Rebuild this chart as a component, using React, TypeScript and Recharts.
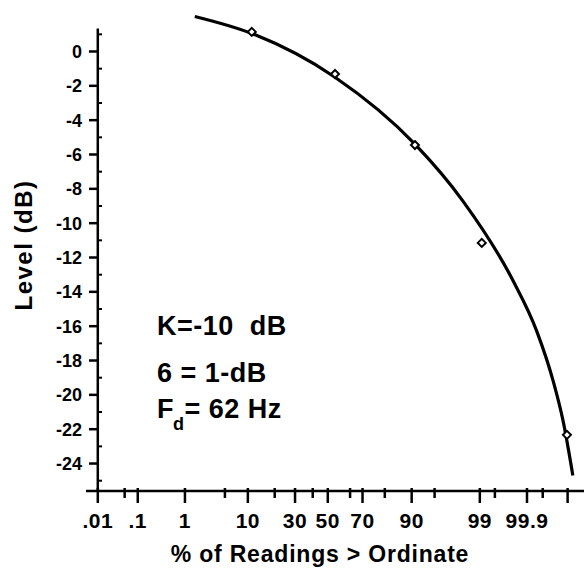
import React from "react";
import { ComposedChart, Line, Scatter, XAxis, YAxis, ReferenceLine } from "recharts";

// x axis is a probability (probit) scale; positions are in probit units, labels are percent
const probPos = [-3.51, -3.1, -2.9, -2.18, -1.57, -1.22, -0.81, -0.5, -0.23, 0, 0.34, 0.53, 0.87, 1.28, 1.63, 2.32, 2.55, 3.04, 3.28, 3.66];
const probLabels = [".01", "", ".1", "1", "", "10", "", "30", "", "50", "", "70", "", "90", "", "99", "", "99.9", "", ""];
const probMajor = [true, false, true, true, false, true, false, true, false, true, false, true, false, true, false, true, false, true, false, true];

// level ticks in dB, labels only on the even ones
const levelTicks = [1, 0, -1, -2, -3, -4, -5, -6, -7, -8, -9, -10, -11, -12, -13, -14, -15, -16, -17, -18, -19, -20, -21, -22, -23, -24, -25];

// fitted curve
const curveX = [-2.03, -1.16, 0.11, 1.33, 2.06, 2.82, 3.19, 3.44, 3.59, 3.74];
const curveLevel = [2.04, 1.05, -1.5, -5.4, -8.7, -13.3, -16.3, -19.2, -21.5, -24.7];

// measured readings (diamonds)
const readingX = [-1.16, 0.11, 1.33, 2.35, 3.65];
const readingLevel = [1.14, -1.31, -5.45, -11.15, -22.33];

const curveData = curveX.map((x, i) => ({ x, level: curveLevel[i] }));
const readingData = readingX.map((x, i) => ({ x, level: readingLevel[i] }));

const FONT = '"Liberation Sans", Arial, sans-serif';

function ProbTick(props: any) {
    const { x, y, payload } = props;
    const i = probPos.indexOf(payload.value);
    const major = probMajor[i];
    return (
        <g>
            <line x1={x} x2={x} y1={y - 3} y2={y + (major ? 12 : 7)} stroke="#000" strokeWidth={2.5} />
            {probLabels[i] ? (
                <text x={x} y={y + 37} textAnchor="middle" fontSize={21} fontWeight="bold" fontFamily={FONT} letterSpacing={0.5} fill="#000">
                    {probLabels[i]}
                </text>
            ) : null}
        </g>
    );
}

function LevelTick(props: any) {
    const { x, y, payload } = props;
    const v = payload.value;
    const major = v % 2 === 0;
    const axisX = x + 12; // the drawn y axis sits a bit right of the plot edge
    return (
        <g>
            {major ? (
                <line x1={axisX - 9} x2={axisX} y1={y} y2={y} stroke="#000" strokeWidth={2.5} />
            ) : (
                <line x1={axisX} x2={axisX + 4} y1={y} y2={y} stroke="#000" strokeWidth={2} />
            )}
            {major ? (
                <text x={x - 4} y={y} dy="0.36em" textAnchor="end" fontSize={18} fontWeight="bold" fontFamily={FONT} fill="#000">
                    {v}
                </text>
            ) : null}
        </g>
    );
}

const Diamond = (p: any) => (
    <path
        d={`M${p.cx},${p.cy - 4} L${p.cx + 4},${p.cy} L${p.cx},${p.cy + 4} L${p.cx - 4},${p.cy} Z`}
        fill="#fff"
        stroke="#000"
        strokeWidth={2}
    />
);

export default function App() {
    return (
        <div style={{ position: "absolute", left: 0, top: 0, width: 584, height: 572, background: "#fff" }}>
            <ComposedChart width={584} height={572} margin={{ top: 12, right: 0, bottom: 0, left: 0 }}>
                <XAxis
                    type="number"
                    dataKey="x"
                    domain={[-3.69, 3.91]}
                    allowDataOverflow
                    ticks={probPos}
                    interval={0}
                    tick={<ProbTick />}
                    tickLine={false}
                    tickSize={0}
                    tickMargin={0}
                    height={81}
                    axisLine={{ stroke: "#000", strokeWidth: 2.5 }}
                />
                <YAxis
                    type="number"
                    dataKey="level"
                    domain={[-25.6, 2.3]}
                    allowDataOverflow
                    ticks={levelTicks}
                    interval={0}
                    tick={<LevelTick />}
                    tickLine={false}
                    tickSize={0}
                    tickMargin={0}
                    width={86}
                    axisLine={false}
                />
                <ReferenceLine
                    segment={[{ x: probPos[0], y: -25.6 }, { x: probPos[0], y: 1.34 }]}
                    stroke="#000"
                    strokeWidth={2.5}
                    ifOverflow="visible"
                />
                <Line
                    data={curveData}
                    dataKey="level"
                    type="monotone"
                    stroke="#000"
                    strokeWidth={3.2}
                    dot={false}
                    isAnimationActive={false}
                />
                <Scatter data={readingData} dataKey="level" shape={<Diamond />} isAnimationActive={false} />
                <text x={32} y={245} transform="rotate(-90 32 245)" textAnchor="middle" fontSize={24} fontWeight="bold" letterSpacing={1.5} fontFamily={FONT} fill="#000">
                    Level (dB)
                </text>
                <text x={320} y={562} textAnchor="middle" fontSize={23} fontWeight="bold" letterSpacing={0.8} fontFamily={FONT} fill="#000">
                    % of Readings &gt; Ordinate
                </text>
                <g fontFamily={FONT} fontSize={27} fontWeight="bold" fill="#000">
                    <text x={157} y={335} letterSpacing={0.5} style={{ whiteSpace: "pre" }}>K=-10  dB</text>
                    <text x={157} y={382} letterSpacing={0.5}>6 = 1-dB</text>
                    <text x={157} y={418} letterSpacing={0.5}>
                        F<tspan dx={-1} dy={12} fontSize={18}>d</tspan>
                        <tspan dy={-12}>= 62 Hz</tspan>
                    </text>
                </g>
            </ComposedChart>
        </div>
    );
}
